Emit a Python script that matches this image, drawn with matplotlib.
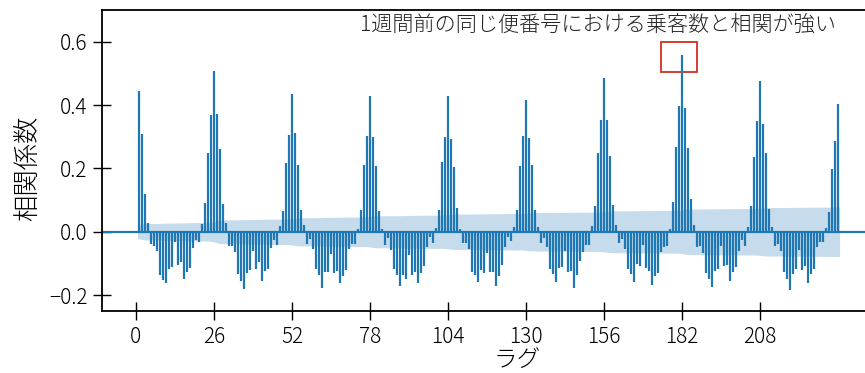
import numpy as np
import matplotlib
matplotlib.use("Agg")
import matplotlib.pyplot as plt
from matplotlib.patches import Rectangle

plt.rcParams['font.family'] = ['Noto Sans CJK JP', 'DejaVu Sans']
plt.rcParams['font.weight'] = 'light'
plt.rcParams['axes.labelweight'] = 'light'

acf_values = [
    0.443, 0.310, 0.118, 0.027, -0.039, -0.046, -0.062, -0.135, -0.151, -0.161,
    -0.117, -0.111, -0.033, -0.104, -0.096, -0.148, -0.126, -0.115, -0.051, -0.025,
    -0.033, 0.024, 0.090, 0.250, 0.369, 0.508, 0.373, 0.261, 0.088, 0.027,
    -0.046, -0.044, -0.064, -0.132, -0.156, -0.182, -0.130, -0.122, -0.062, -0.117,
    -0.096, -0.156, -0.125, -0.117, -0.051, -0.025, -0.043, 0.017, 0.066, 0.216,
    0.305, 0.434, 0.312, 0.210, 0.068, 0.020, -0.039, -0.023, -0.054, -0.119,
    -0.137, -0.176, -0.126, -0.126, -0.070, -0.131, -0.123, -0.161, -0.138, -0.122,
    -0.053, -0.038, -0.039, 0.009, 0.070, 0.210, 0.301, 0.428, 0.298, 0.209,
    0.066, 0.009, -0.042, -0.020, -0.059, -0.116, -0.135, -0.172, -0.135, -0.149,
    -0.072, -0.135, -0.127, -0.163, -0.131, -0.109, -0.049, -0.017, -0.036, 0.012,
    0.070, 0.220, 0.300, 0.430, 0.292, 0.206, 0.076, 0.010, -0.036, -0.036,
    -0.053, -0.126, -0.137, -0.157, -0.120, -0.131, -0.066, -0.126, -0.126, -0.170,
    -0.138, -0.105, -0.049, -0.017, -0.028, 0.016, 0.068, 0.207, 0.302, 0.417,
    0.295, 0.212, 0.068, 0.016, -0.035, -0.019, -0.047, -0.119, -0.133, -0.157,
    -0.115, -0.112, -0.061, -0.128, -0.123, -0.178, -0.135, -0.091, -0.064, -0.043,
    -0.043, 0.019, 0.082, 0.249, 0.354, 0.484, 0.352, 0.240, 0.083, 0.020,
    -0.035, -0.023, -0.054, -0.119, -0.132, -0.157, -0.103, -0.109, -0.043, -0.113,
    -0.125, -0.168, -0.140, -0.131, -0.065, -0.048, -0.046, 0.008, 0.095, 0.268,
    0.397, 0.557, 0.390, 0.263, 0.102, 0.021, -0.048, -0.044, -0.067, -0.130,
    -0.149, -0.174, -0.124, -0.119, -0.044, -0.109, -0.106, -0.156, -0.127, -0.111,
    -0.060, -0.025, -0.044, 0.016, 0.082, 0.235, 0.349, 0.476, 0.341, 0.250,
    0.073, 0.014, -0.046, -0.039, -0.060, -0.128, -0.148, -0.184, -0.133, -0.119,
    -0.059, -0.121, -0.109, -0.161, -0.132, -0.116, -0.048, -0.031, -0.031, 0.012,
    0.064, 0.198, 0.288, 0.403,
]
lags = np.arange(1, len(acf_values) + 1)
n_obs = 9000  # sample size used for Bartlett confidence band
xtick_values = [0, 26, 52, 78, 104, 130, 156, 182, 208]
ytick_values = [-0.2, 0.0, 0.2, 0.4, 0.6]
title_text = "1週間前の同じ便番号における乗客数と相関が強い"
xlabel_text = "ラグ"
ylabel_text = "相関係数"

acf = np.array(acf_values)
# Bartlett's formula (as statsmodels plot_acf)
var = np.ones_like(acf) / n_obs
var[1:] *= 1 + 2 * np.cumsum(acf[:-1] ** 2)
half = 1.96 * np.sqrt(var)

fig = plt.figure(figsize=(8.65, 3.73), dpi=100)
ax = fig.add_axes([102 / 865, 62 / 373, 830 / 865, 301 / 373])

c = '#1f77b4'
ax.vlines(lags, 0, acf, colors=c, linewidth=1.6)
ax.axhline(0, color=c, linewidth=1.6)
band_x = lags.astype(float)
band_x[0] -= 0.5
band_x[-1] += 0.5
ax.fill_between(band_x, -half, half, color=c, alpha=0.25, linewidth=0)

ax.set_xlim(-11.33, 265.3)
ax.set_ylim(-0.25, 0.7)
ax.set_xticks(xtick_values)
ax.set_yticks(ytick_values)
ax.set_yticklabels([f"{v:.1f}".replace('-', '\u2212') for v in ytick_values])
ax.tick_params(direction='inout', length=13, width=1.0, labelsize=15, pad=4)
for s in ax.spines.values():
    s.set_linewidth(1.3)

ax.set_xlabel(xlabel_text, fontsize=17, labelpad=0, fontweight='light')
ax.set_ylabel(ylabel_text, fontsize=19, fontweight='light')
ax.yaxis.set_label_coords(-0.073, 0.475)

ax.text(154, 0.652, title_text, ha='center', va='center', fontsize=15.2, color='#222222')
ax.add_patch(Rectangle((175, 0.505), 12, 0.095, fill=False, edgecolor='#d03020', linewidth=1.3))

fig.savefig("out.png", dpi=100)
